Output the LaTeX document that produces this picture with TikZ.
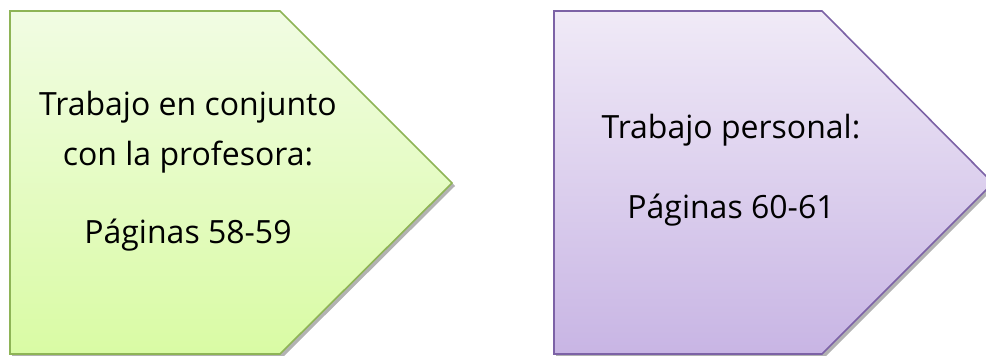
\documentclass[tikz,border=0pt]{standalone}
\usepackage{fontspec}
\setmainfont{Open Sans}
\definecolor{greenTop}{HTML}{F1FCE3}
\definecolor{greenBot}{HTML}{D9FBA4}
\definecolor{greenLine}{HTML}{8EB456}
\definecolor{violetTop}{HTML}{F0EAF7}
\definecolor{violetBot}{HTML}{C8B5E4}
\definecolor{violetLine}{HTML}{7C62A6}
\tikzset{
  plate/.style={line width=1.6pt, line join=miter},
  plateshadow/.style={fill=black!30, draw=none},
  label/.style={font=\fontsize{32}{38}\selectfont, align=center, inner sep=0pt, anchor=base}
}
\begin{document}
\begin{tikzpicture}[x=1pt,y=-1pt]
\useasboundingbox (0,0) rectangle (986,356);
\clip (0,0) rectangle (986,356);
% left pentagon: joint work
\fill[plateshadow] (12,14) -- (283,14) -- (455,186) -- (283,357) -- (12,357) -- cycle;
\shade[top color=greenTop, bottom color=greenBot, draw=greenLine, plate]
  (10,11) -- (280,11) -- (452,183) -- (280,354) -- (10,354) -- cycle;
% right pentagon: own work
\fill[plateshadow] (556,14) -- (825,14) -- (996,186) -- (825,357) -- (556,357) -- cycle;
\shade[top color=violetTop, bottom color=violetBot, draw=violetLine, plate]
  (554,11) -- (822,11) -- (993,183) -- (822,354) -- (554,354) -- cycle;
% texts
\node[label] (l1) at (188,115) {Trabajo en conjunto};
\node[label] (l2) at (188,165) {con la profesora:};
\node[label] (l3) at (188,243) {Páginas 58-59};
\node[label] (r1) at (731,138) {Trabajo personal:};
\node[label] (r2) at (731,218) {Páginas 60-61};
\end{tikzpicture}
\end{document}
